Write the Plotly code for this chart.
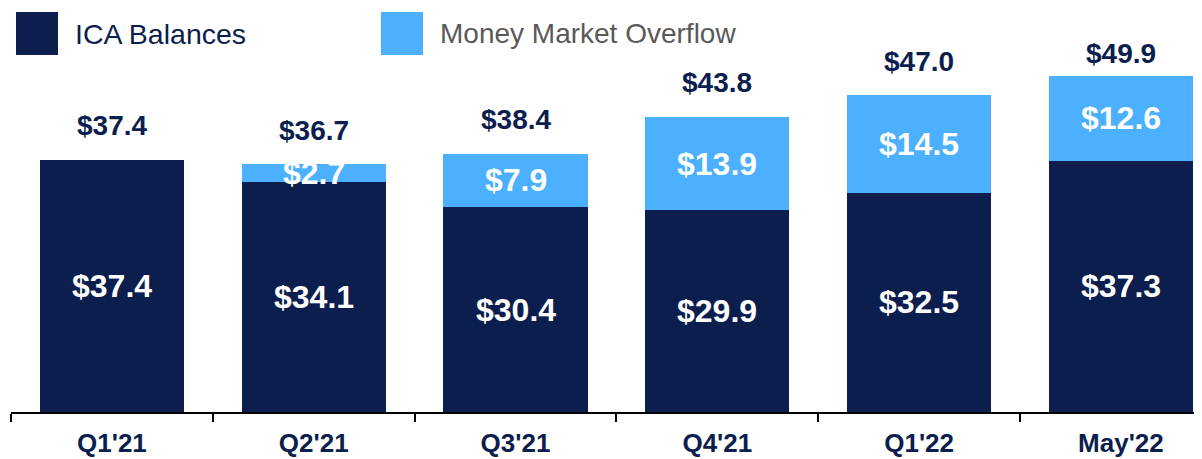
import plotly.graph_objects as go

categories = ["Q1'21", "Q2'21", "Q3'21", "Q4'21", "Q1'22", "May'22"]
ica_balances = [37.4, 34.1, 30.4, 29.9, 32.5, 37.3]
mm_overflow = [0.0, 2.7, 7.9, 13.9, 14.5, 12.6]
totals = [37.4, 36.7, 38.4, 43.8, 47.0, 49.9]
series_names = ["ICA Balances", "Money Market Overflow"]

NAVY = "#0B1E4D"
LIGHT = "#4AB0FF"
FONT = "Liberation Sans, Arial, sans-serif"

total_offsets = [34, 34, 34, 34, 34, 22]

# page body has an 8px margin; plot area spans fig x 3..1202, y 0..404
PL, PW, PH = 11, 1199, 404


def px(wx):
    return (wx - PL) / PW


def py(wy):
    return (412 - wy) / PH


fig = go.Figure()
fig.add_trace(go.Bar(x=categories, y=ica_balances, name=series_names[0],
                     marker=dict(color=NAVY, line=dict(width=0)), width=0.714,
                     hoverinfo="skip"))
fig.add_trace(go.Bar(x=categories, y=mm_overflow, name=series_names[1],
                     marker=dict(color=LIGHT, line=dict(width=0)), width=0.714,
                     hoverinfo="skip"))

ann = []
for i, c in enumerate(categories):
    ann.append(dict(x=c, y=ica_balances[i] / 2, text=f"${ica_balances[i]:.1f}",
                    showarrow=False, xref="x", yref="y", yanchor="middle",
                    font=dict(family=FONT, size=32, color="white", weight="bold")))
    if mm_overflow[i] > 0:
        ann.append(dict(x=c, y=ica_balances[i] + mm_overflow[i] / 2,
                        text=f"${mm_overflow[i]:.1f}", showarrow=False,
                        xref="x", yref="y", yanchor="middle",
                        font=dict(family=FONT, size=32, color="white", weight="bold")))
    ann.append(dict(x=c, y=totals[i], yshift=total_offsets[i], text=f"${totals[i]:.1f}",
                    showarrow=False, xref="x", yref="y", yanchor="middle",
                    font=dict(family=FONT, size=28, color=NAVY, weight="bold")))

# legend drawn manually (window pixel positions)
legend_items = [(series_names[0], NAVY, NAVY, 16, 28.5), (series_names[1], LIGHT, "#595959", 381, 28)]
shapes = []
for name, col, tcol, x0, fs in legend_items:
    shapes.append(dict(type="rect", xref="paper", yref="paper",
                       x0=px(x0), x1=px(x0 + 42), y0=py(55), y1=py(12),
                       fillcolor=col, line=dict(width=0)))
    ann.append(dict(xref="paper", yref="paper", x=px(x0 + 57), y=py(34),
                    xanchor="left", yanchor="middle", showarrow=False, text=name,
                    font=dict(family=FONT, size=fs, color=tcol)))

fig.update_layout(
    barmode="stack",
    width=1202, height=459,
    margin=dict(l=3, r=0, t=0, b=55, pad=0),
    paper_bgcolor="white", plot_bgcolor="white",
    showlegend=False,
    annotations=ann,
    shapes=shapes,
    xaxis=dict(type="category", range=[-0.5, -0.5 + PW / 201.8], tickson="boundaries",
               ticks="outside", ticklen=8, tickwidth=1.5, tickcolor="black",
               showline=True, linecolor="black", linewidth=2,
               showgrid=False, zeroline=False, ticklabelstandoff=7,
               tickfont=dict(family=FONT, size=26, color=NAVY, weight="bold")),
    yaxis=dict(range=[0, PH / 6.74], visible=False, showgrid=False, zeroline=False),
)

fig.write_html("out.html")
